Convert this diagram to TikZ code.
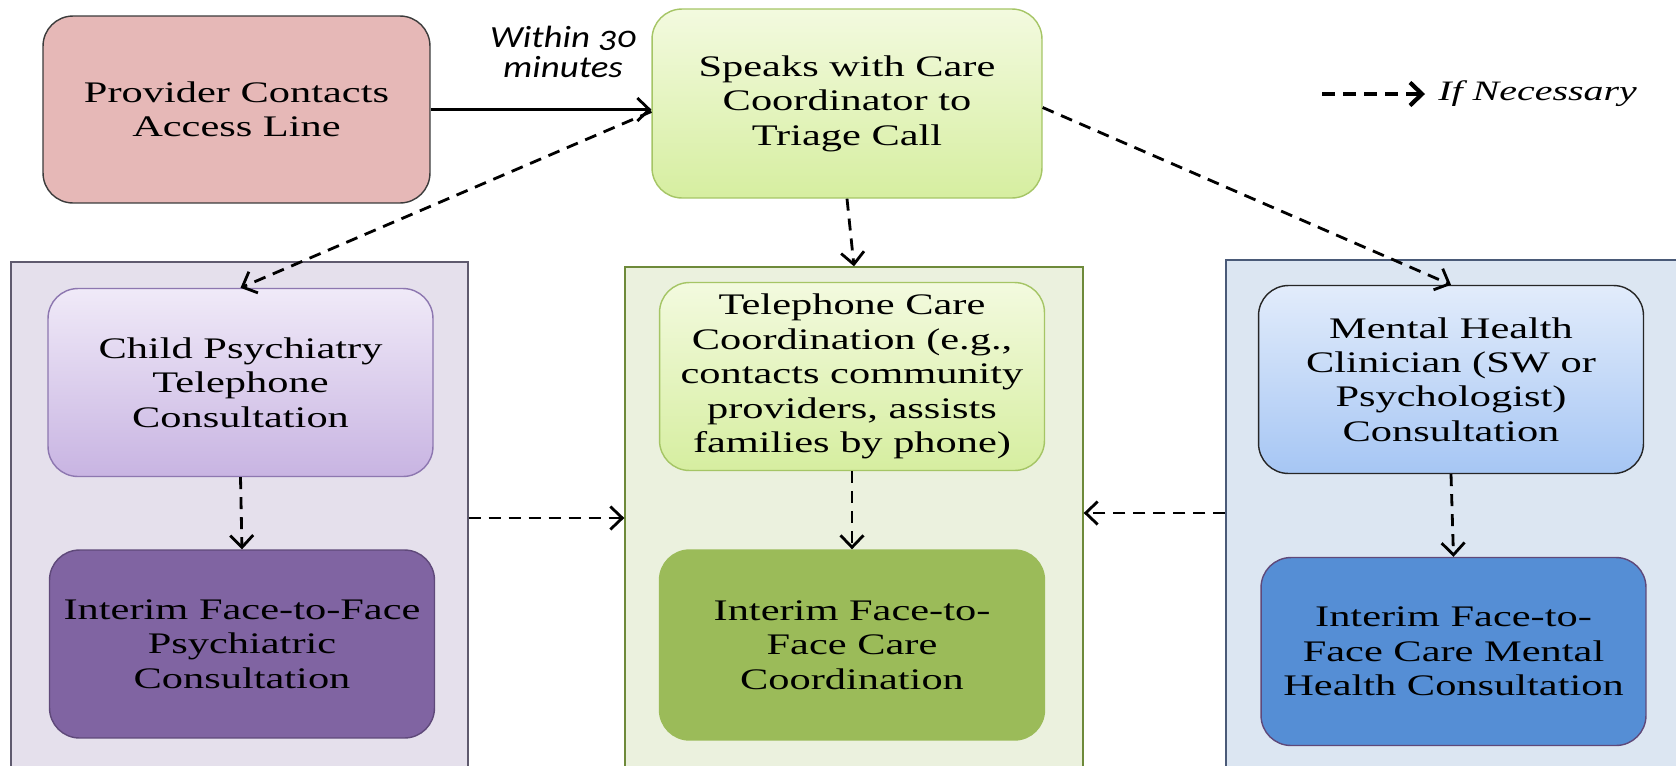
\documentclass[tikz,border=0pt]{standalone}
\usepackage{fontspec}
\setmainfont{Liberation Serif}[FakeStretch=1.42]
\newfontfamily\calibri{Carlito}[FakeStretch=1.2,Numbers=OldStyle]
\usetikzlibrary{arrows.meta}
\definecolor{provfill}{HTML}{E6B8B7}
\definecolor{provline}{HTML}{3B3B3B}
\definecolor{greentop}{HTML}{F3FADF}
\definecolor{greenbot}{HTML}{D6EEA0}
\definecolor{greenline}{HTML}{A5C565}
\definecolor{lpanfill}{HTML}{E5E0EC}
\definecolor{lpanline}{HTML}{5F5A6E}
\definecolor{purptop}{HTML}{F0EAF8}
\definecolor{purpbot}{HTML}{C8B4E2}
\definecolor{purpline}{HTML}{8D77B0}
\definecolor{purpdark}{HTML}{8064A2}
\definecolor{purpdeep}{HTML}{5F497A}
\definecolor{mpanfill}{HTML}{EBF1DE}
\definecolor{mpanline}{HTML}{6E8A3A}
\definecolor{olive}{HTML}{9BBB59}
\definecolor{rpanfill}{HTML}{DCE6F2}
\definecolor{rpanline}{HTML}{4A5A78}
\definecolor{bluetop}{HTML}{E2ECFB}
\definecolor{bluebot}{HTML}{A6C6F4}
\definecolor{bluedark}{HTML}{558ED5}
\begin{document}
\begin{tikzpicture}[x=0.02cm,y=-0.02cm,
		box/.style={draw,rounded corners=0.6cm,align=center,inner sep=0pt,minimum width=7.7cm,minimum height=3.76cm,font=\fontsize{17}{19.6}\selectfont,line width=0.8pt},
		panel/.style={draw,inner sep=0pt,line width=0.8pt},
		flow/.style={-{Straight Barb[length=2.4mm,width=4.6mm]},line width=1.6pt},
		ifnec/.style={flow,dash pattern=on 0.24cm off 0.16cm}]
		\useasboundingbox (0,0) rectangle (1676,765);
		\begin{scope}
			\clip (0,0) rectangle (1676,765);
			\node[panel,fill=lpanfill,draw=lpanline,minimum width=9.14cm,minimum height=10.56cm] (lpanel) at (239.5,526) {};
			\node[panel,fill=mpanfill,draw=mpanline,minimum width=9.16cm,minimum height=10.46cm] (mpanel) at (854,528.5) {};
			\node[panel,fill=rpanfill,draw=rpanline,minimum width=9.28cm,minimum height=10.6cm] (rpanel) at (1458,525) {};
		\end{scope}
		\node[box,fill=provfill,draw=provline,minimum width=7.74cm,minimum height=3.74cm] (prov) at (236.5,109.5) {Provider Contacts\\Access Line};
		\node[box,top color=greentop,bottom color=greenbot,draw=greenline,minimum width=7.8cm,minimum height=3.78cm] (speak) at (847,103.5) {Speaks with Care\\Coordinator to\\Triage Call};
		\node[font=\calibri\itshape\fontsize{17.5}{17.5}\selectfont,align=center] (within) at (563,52) {Within 30\\minutes};
		\node[box,top color=purptop,bottom color=purpbot,draw=purpline] (cpsych) at (240.5,382.5) {Child Psychiatry\\Telephone\\Consultation};
		\node[box,fill=purpdark,draw=purpdeep] (ipsych) at (242,644) {Interim Face-to-Face\\Psychiatric\\Consultation};
		\node[box,top color=greentop,bottom color=greenbot,draw=greenline] (tele) at (852,376.5) {Telephone Care\\Coordination (e.g.,\\contacts community\\providers, assists\\families by phone)};
		\node[box,fill=olive,draw=olive,minimum height=3.8cm] (icare) at (852,645) {Interim Face-to-\\Face Care\\Coordination};
		\node[box,top color=bluetop,bottom color=bluebot,draw=black!85] (mh) at (1451,379.5) {Mental Health\\Clinician (SW or\\Psychologist)\\Consultation};
		\node[box,fill=bluedark,draw=purpdeep] (imh) at (1453.5,651.5) {Interim Face-to-\\Face Care Mental\\Health Consultation};
		\coordinate (legs) at (1322,94);
		\node[anchor=west,inner sep=0pt,font=\itshape\fontsize{16}{19}\selectfont] (legend) at (1438,94) {If Necessary};
		\draw[flow] (prov.east) -- (prov.east -| speak.west);
		\draw[ifnec] ([yshift=-0.16cm]speak.west) -- (cpsych.north);
		\draw[ifnec] (speak.south) -- (mpanel.north);
		\draw[ifnec] ([yshift=-0.08cm]speak.east) -- (mh.north);
		\draw[ifnec] (cpsych.south) -- (ipsych.north);
		\draw[ifnec] (tele.south) -- (icare.north);
		\draw[ifnec] (mh.south) -- (imh.north);
		\draw[ifnec] ([yshift=0.16cm]lpanel.east) -- ([yshift=0.16cm]lpanel.east -| mpanel.west);
		\draw[ifnec] ([yshift=0.24cm]rpanel.west) -- ([yshift=0.24cm]rpanel.west -| mpanel.east);
		\draw[ifnec,line width=2.4pt,dash pattern=on 0.26cm off 0.16cm,shorten >=0.26cm] (legs) -- (legend.west);
	\end{tikzpicture}
\end{document}
